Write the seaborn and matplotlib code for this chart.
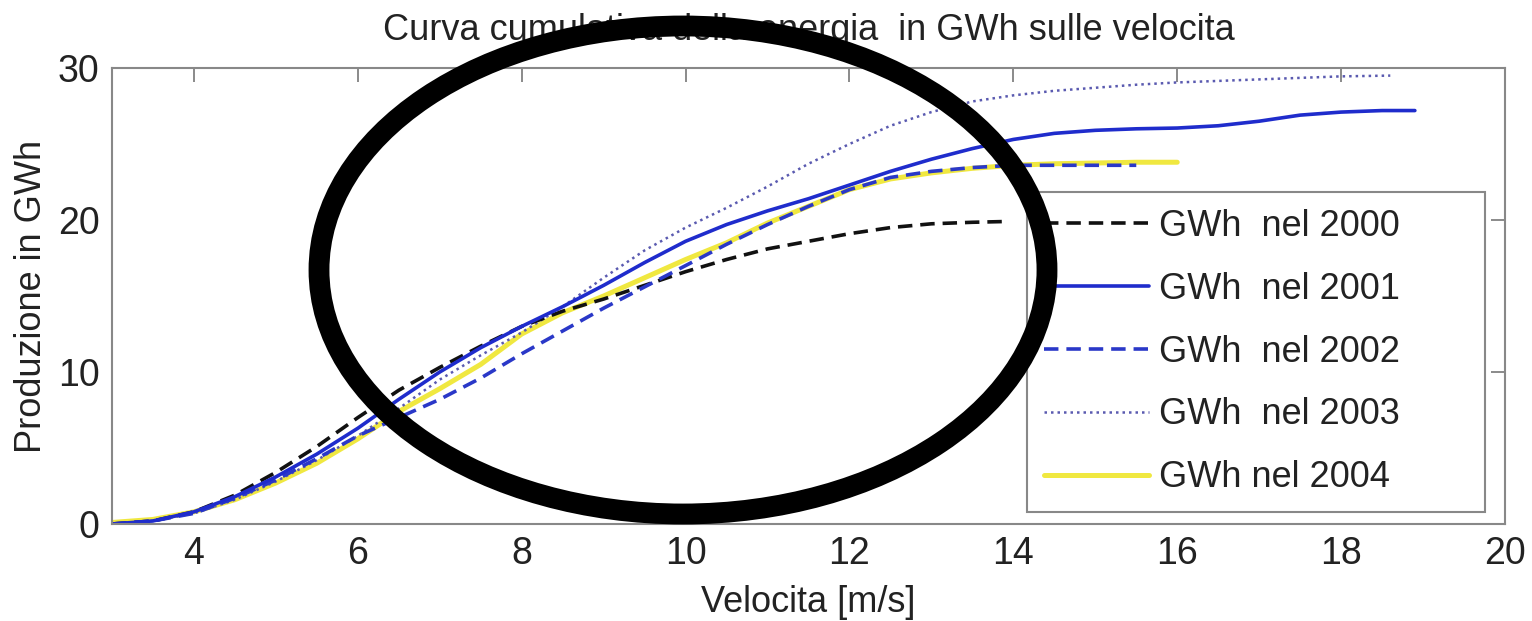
import numpy as np
import pandas as pd
import matplotlib
matplotlib.use("Agg")
import matplotlib.pyplot as plt
from matplotlib.patches import Ellipse
import seaborn as sns

# ---- data ----
v_2000 = [3, 3.5, 4, 4.5, 5, 5.5, 6, 6.5, 7, 7.5, 8, 8.5, 9, 9.5, 10, 10.5, 11, 11.5, 12, 12.5, 13, 13.5, 13.9]
g_2000 = [0.0, 0.2, 0.8, 1.9, 3.4, 5.1, 7.0, 8.8, 10.3, 11.7, 13.0, 14.0, 14.8, 15.7, 16.6, 17.4, 18.1, 18.6, 19.1, 19.5, 19.75, 19.85, 19.9]

v_2001 = [3, 3.5, 4, 4.5, 5, 5.5, 6, 6.5, 7, 7.5, 8, 8.5, 9, 9.5, 10, 10.5, 11, 11.5, 12, 12.5, 13, 13.5, 14,
          14.5, 15, 15.5, 16, 16.5, 17, 17.5, 18, 18.5, 18.9]
g_2001 = [0.0, 0.2, 0.8, 1.8, 3.1, 4.6, 6.3, 8.2, 10.0, 11.6, 13.0, 14.3, 15.7, 17.2, 18.6, 19.7, 20.6, 21.4, 22.3, 23.2, 24.0, 24.7, 25.3,
          25.7, 25.9, 26.0, 26.05, 26.2, 26.5, 26.9, 27.1, 27.2, 27.2]

v_2002 = [3, 3.5, 4, 4.5, 5, 5.5, 6, 6.5, 7, 7.5, 8, 8.5, 9, 9.5, 10, 10.5, 11, 11.5, 12, 12.5, 13, 13.5, 14, 14.5, 15, 15.5]
g_2002 = [0.0, 0.2, 0.7, 1.7, 2.9, 4.3, 5.8, 7.0, 8.2, 9.6, 11.2, 12.7, 14.2, 15.6, 17.0, 18.4, 19.7, 20.9, 22.0, 22.8, 23.2, 23.45, 23.6, 23.6, 23.6, 23.6]

v_2003 = [3, 3.5, 4, 4.5, 5, 5.5, 6, 6.5, 7, 7.5, 8, 8.5, 9, 9.5, 10, 10.5, 11, 11.5, 12, 12.5, 13, 13.5, 14,
          14.5, 15, 15.5, 16, 16.5, 17, 17.5, 18, 18.6]
g_2003 = [0.0, 0.2, 0.7, 1.6, 2.8, 4.2, 5.8, 7.6, 9.5, 11.1, 12.6, 14.3, 16.2, 18.0, 19.5, 20.8, 22.2, 23.7, 25.0, 26.2, 27.1, 27.8, 28.2,
          28.5, 28.7, 28.9, 29.05, 29.15, 29.25, 29.35, 29.45, 29.5]

v_2004 = [3, 3.5, 4, 4.5, 5, 5.5, 6, 6.5, 7, 7.5, 8, 8.5, 9, 9.5, 10, 10.5, 11, 11.5, 12, 12.5, 13, 13.5, 14, 14.5, 15, 15.5, 16]
g_2004 = [0.1, 0.3, 0.8, 1.6, 2.7, 4.0, 5.6, 7.4, 8.9, 10.5, 12.5, 13.9, 15.0, 16.2, 17.4, 18.5, 19.8, 20.9, 22.0, 22.7, 23.1, 23.4, 23.6, 23.7, 23.75, 23.8, 23.8]

labels = ["GWh  nel 2000", "GWh  nel 2001", "GWh  nel 2002", "GWh  nel 2003", "GWh nel 2004"]
x_ticks = [4, 6, 8, 10, 12, 14, 16, 18, 20]
y_ticks = [0, 10, 20, 30]

title = "Curva cumulativa della energia  in GWh sulle velocita"
xlabel = "Velocita [m/s]"
ylabel = "Produzione in GWh"

# ---- style ----
sns.set_style("white")
plt.rcParams["font.family"] = ["Liberation Sans", "DejaVu Sans"]

W, H = 1532, 621
fig = plt.figure(figsize=(W / 100, H / 100), dpi=100)
ax = fig.add_axes([112 / W, 1 - 524 / H, (1505 - 112) / W, (524 - 68) / H])

series = [
    (v_2000, g_2000, labels[0], "#111111", (0, (4, 2.2)), 2.6),
    (v_2001, g_2001, labels[1], "#1f2ccc", "-", 2.6),
    (v_2002, g_2002, labels[2], "#2a38c8", (0, (4, 2.2)), 2.6),
    (v_2003, g_2003, labels[3], "#5a5ab0", (0, (1, 1.6)), 1.8),
    (v_2004, g_2004, labels[4], "#f0e840", "-", 3.6),
]

# draw order: yellow under, then others
order = [4, 3, 0, 2, 1]
for i in order:
    xs, ys, lab, col, ls, lw = series[i]
    df = pd.DataFrame({"v": xs, "g": ys})
    sns.lineplot(data=df, x="v", y="g", ax=ax, color=col, linestyle=ls,
                 linewidth=lw, label=lab, sort=True, estimator=None)

ax.set_xlim(3, 20)
ax.set_ylim(0, 30)
ax.set_xticks(x_ticks)
ax.set_yticks(y_ticks)
ax.tick_params(direction="in", length=10, width=1.2, color="#777777",
               labelsize=27, top=True, right=True, pad=9, labelcolor="#222222")
for s in ax.spines.values():
    s.set_color("#888888")
    s.set_linewidth(1.5)
    s.set_visible(True)

ax.set_title(title, fontsize=26, color="#222222", pad=20)
ax.set_xlabel(xlabel, fontsize=26, color="#222222", labelpad=9)
ax.set_ylabel(ylabel, fontsize=26, color="#222222", labelpad=6)

hl, ll = ax.get_legend_handles_labels()
lookup = dict(zip(ll, hl))
leg = ax.legend([lookup[l] for l in labels], labels, loc="lower left",
                bbox_to_anchor=(0.657, 0.026, 0.3286, 0.70), mode="expand",
                fontsize=26, frameon=True, fancybox=False, framealpha=1,
                edgecolor="#888888", handlelength=2.9, handletextpad=0.28,
                labelspacing=0.77, borderpad=0.47, borderaxespad=0)
leg.get_frame().set_linewidth(1.5)
for t in leg.get_texts():
    t.set_color("#222222")

# black ellipse overlay drawn on top of everything
ell = Ellipse((683 / W, 1 - 270 / H), 728 / W, 488 / H, transform=fig.transFigure,
              fill=False, edgecolor="black", linewidth=15, zorder=100)
fig.add_artist(ell)

fig.savefig("out.png", dpi=100, facecolor="white")
